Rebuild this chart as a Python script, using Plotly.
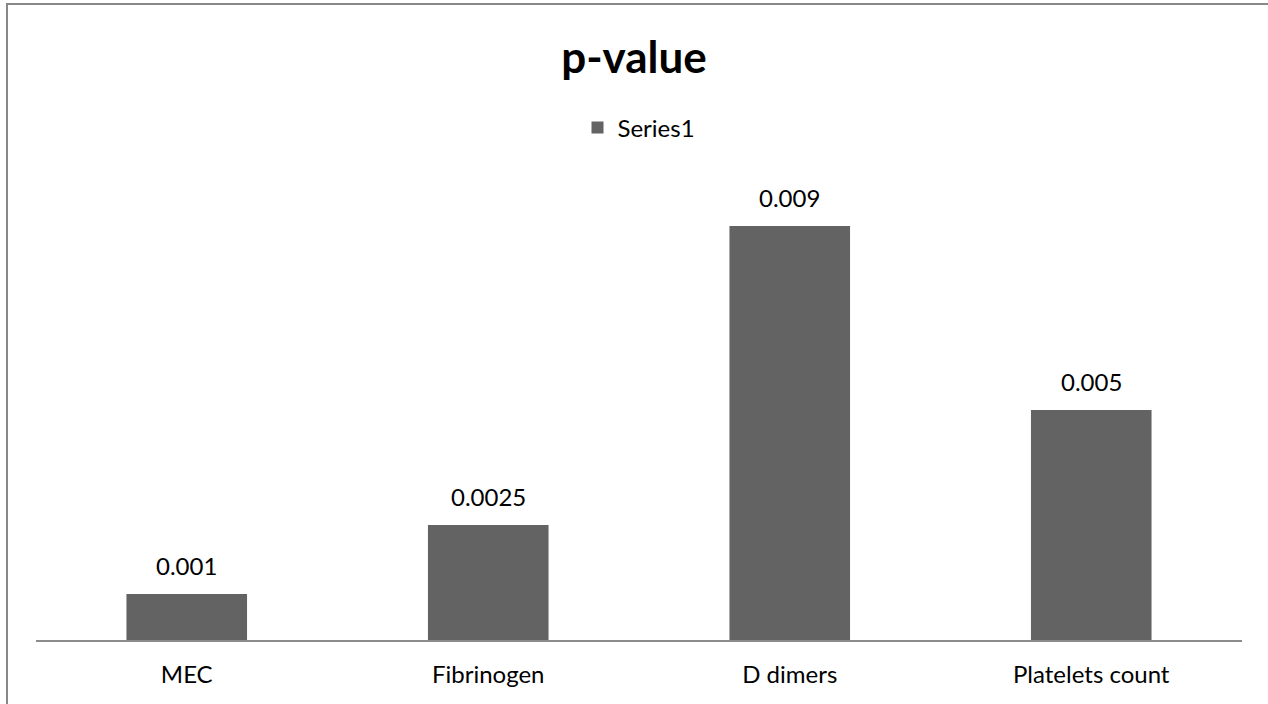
import plotly.graph_objects as go

categories = ["MEC", "Fibrinogen", "D dimers", "Platelets count"]
p_values = [0.001, 0.0025, 0.009, 0.005]
series_name = "Series1"

W, H = 1268, 704
ML, MR, MT, MB = 36, 26, 180, 64
plot_w = W - ML - MR
plot_h = H - MT - MB

FONT = "Lato, Calibri, Carlito, sans-serif"

fig = go.Figure()
fig.add_trace(go.Bar(
    x=categories,
    y=p_values,
    name=series_name,
    marker=dict(color="#636363", line=dict(width=0)),
    showlegend=True,
))

# value labels above each bar
for c, v in zip(categories, p_values):
    fig.add_annotation(
        x=c, y=v, text=f"{v:g}", showarrow=False,
        yanchor="bottom", yshift=12,
        font=dict(family=FONT, size=24, color="#000000"),
    )

# outer frame lines (top and left)
def px_to_paper_x(px):
    return (px - ML) / plot_w

def px_to_paper_y(py):
    return (H - MB - py) / plot_h

frame_color = "#888888"
fig.add_shape(type="line", xref="paper", yref="paper",
              x0=px_to_paper_x(6), x1=px_to_paper_x(W + 2),
              y0=px_to_paper_y(4), y1=px_to_paper_y(4),
              line=dict(color=frame_color, width=2))
fig.add_shape(type="line", xref="paper", yref="paper",
              x0=px_to_paper_x(7), x1=px_to_paper_x(7),
              y0=px_to_paper_y(4), y1=px_to_paper_y(H + 2),
              line=dict(color=frame_color, width=2))

fig.update_layout(
    width=W, height=H,
    margin=dict(l=ML, r=MR, t=MT, b=MB, autoexpand=False),
    paper_bgcolor="white", plot_bgcolor="white",
    bargap=0.6,
    title=dict(text="<b>p-value</b>", x=0.5, xanchor="center",
               y=1 - 58 / H, yanchor="middle",
               font=dict(family=FONT, size=44, color="#000000")),
    legend=dict(orientation="h", x=0.5, xanchor="center",
                y=px_to_paper_y(128), yanchor="middle",
                font=dict(family=FONT, size=24, color="#000000"),
                itemwidth=30, bgcolor="rgba(0,0,0,0)"),
    xaxis=dict(showline=True, linecolor="#8c8c8c", linewidth=1.5,
               ticks="", showgrid=False, ticklabelstandoff=12,
               automargin=False,
               tickfont=dict(family=FONT, size=24, color="#000000")),
    yaxis=dict(range=[0, 0.01], visible=False, showgrid=False,
               automargin=False),
)

fig.write_html("out.html")
